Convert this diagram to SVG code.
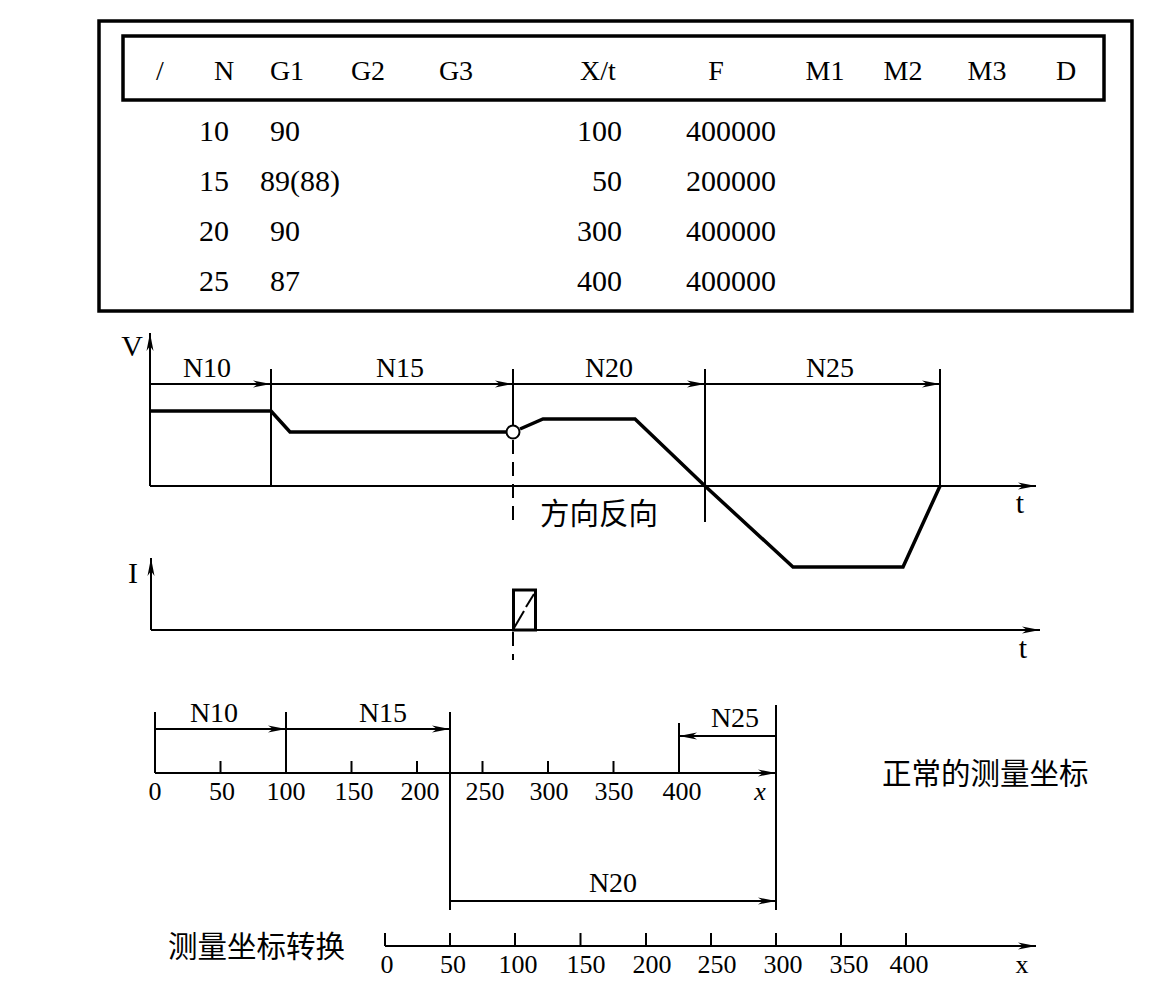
<svg xmlns="http://www.w3.org/2000/svg" width="1165" height="982" viewBox="0 0 1165 982">
<style>
.t{font-family:"Liberation Serif","Times New Roman",serif;font-size:28px;fill:#000}
.b{font-size:30px}
.s{font-family:"Liberation Serif","Times New Roman",serif;font-size:26px;fill:#000}
.c{font-family:"Noto Sans CJK SC",sans-serif;font-size:29.5px;fill:#000}
.m{text-anchor:middle}
.e{text-anchor:end}
.ax{stroke:#000;stroke-width:2;fill:none}
.bx{stroke:#000;stroke-width:3.5;fill:none}
.cv{stroke:#000;stroke-width:3.5;fill:none;stroke-linejoin:miter}
.ds{stroke:#000;stroke-width:2;fill:none;stroke-dasharray:14,8}
</style>
<defs>
<marker id="ar" markerUnits="userSpaceOnUse" markerWidth="20" markerHeight="8" refX="18" refY="4" orient="auto">
<path d="M0,0.5 L18,4 L0,7.5 L5,4 z" fill="#000"/>
</marker>
</defs>
<rect width="1165" height="982" fill="#fff"/>
<g id="table">
<rect class="bx" x="99" y="21" width="1033" height="290"/>
<rect class="bx" x="123" y="36" width="981" height="64"/>
<g id="header" class="t">
<text x="160" y="80" class="m">/</text>
<text x="224" y="80" class="m">N</text>
<text x="287" y="80" class="m">G1</text>
<text x="368" y="80" class="m">G2</text>
<text x="456" y="80" class="m">G3</text>
<text x="598" y="80" class="m">X/t</text>
<text x="716" y="80" class="m">F</text>
<text x="825" y="80" class="m">M1</text>
<text x="903" y="80" class="m">M2</text>
<text x="987" y="80" class="m">M3</text>
<text x="1066" y="80" class="m">D</text>
</g>
<g id="rows" class="t b">
<text x="214" y="141" class="m">10</text>
<text x="285" y="141" class="m">90</text>
<text x="622" y="141" class="e">100</text>
<text x="686" y="141">400000</text>
<text x="214" y="191" class="m">15</text>
<text x="260" y="191">89(88)</text>
<text x="622" y="191" class="e">50</text>
<text x="686" y="191">200000</text>
<text x="214" y="241" class="m">20</text>
<text x="285" y="241" class="m">90</text>
<text x="622" y="241" class="e">300</text>
<text x="686" y="241">400000</text>
<text x="214" y="291" class="m">25</text>
<text x="285" y="291" class="m">87</text>
<text x="622" y="291" class="e">400</text>
<text x="686" y="291">400000</text>
</g>
</g>
<g id="v-graph">
<line class="ax" x1="150" y1="486" x2="150" y2="333" marker-end="url(#ar)"/>
<line class="ax" x1="150" y1="486" x2="1036" y2="486" marker-end="url(#ar)"/>
<text class="t b" x="132" y="356" text-anchor="middle">V</text>
<text class="t b" x="1020" y="513" text-anchor="middle">t</text>
<line class="ax" x1="271" y1="369" x2="271" y2="486"/>
<line class="ax" x1="513" y1="369" x2="513" y2="425"/>
<line class="ds" x1="513" y1="440" x2="513" y2="522"/>
<line class="ax" x1="705" y1="369" x2="705" y2="522"/>
<line class="ax" x1="940" y1="369" x2="940" y2="486"/>
<g id="v-dims">
<line class="ax" x1="150" y1="384" x2="271" y2="384" marker-end="url(#ar)"/>
<line class="ax" x1="271" y1="384" x2="513" y2="384" marker-end="url(#ar)"/>
<line class="ax" x1="513" y1="384" x2="705" y2="384" marker-end="url(#ar)"/>
<line class="ax" x1="705" y1="384" x2="940" y2="384" marker-end="url(#ar)"/>
<text class="t m" x="207" y="377">N10</text>
<text class="t m" x="400" y="377">N15</text>
<text class="t m" x="609" y="377">N20</text>
<text class="t m" x="830" y="377">N25</text>
</g>
<polyline class="cv" points="150,411 271,411 290,432 506,432"/>
<polyline class="cv" points="520,429 543,419 635,419 705,486 793,567 903,567 940,486"/>
<circle cx="513" cy="432" r="6.5" fill="#fff" stroke="#000" stroke-width="2"/>
<text class="c" x="540" y="524">方向反向</text>
</g>
<g id="i-graph">
<line class="ax" x1="151" y1="630" x2="151" y2="558" marker-end="url(#ar)"/>
<line class="ax" x1="151" y1="630" x2="1040" y2="630" marker-end="url(#ar)"/>
<text class="t b m" x="133" y="583">I</text>
<text class="t b m" x="1023" y="658">t</text>
<rect x="513.5" y="590" width="22" height="40" fill="none" stroke="#000" stroke-width="3"/>
<line x1="514" y1="628" x2="524" y2="611" stroke="#000" stroke-width="2"/>
<line x1="526" y1="607" x2="534" y2="594" stroke="#000" stroke-width="2"/>
<line class="ds" x1="513" y1="632" x2="513" y2="660"/>
</g>
<g id="x-normal">
<line class="ax" x1="155" y1="773" x2="776" y2="773" marker-end="url(#ar)"/>
<g class="ax">
<line x1="155" y1="712" x2="155" y2="773"/>
<line x1="220.5" y1="761" x2="220.5" y2="773"/>
<line x1="286" y1="712" x2="286" y2="773"/>
<line x1="351.5" y1="761" x2="351.5" y2="773"/>
<line x1="417" y1="761" x2="417" y2="773"/>
<line x1="450" y1="712" x2="450" y2="910"/>
<line x1="482.5" y1="761" x2="482.5" y2="773"/>
<line x1="548" y1="761" x2="548" y2="773"/>
<line x1="613.5" y1="761" x2="613.5" y2="773"/>
<line x1="679" y1="723" x2="679" y2="773"/>
<line x1="776" y1="705" x2="776" y2="910"/>
</g>
<line class="ax" x1="155" y1="729" x2="286" y2="729" marker-end="url(#ar)"/>
<line class="ax" x1="286" y1="729" x2="450" y2="729" marker-end="url(#ar)"/>
<line class="ax" x1="776" y1="736" x2="679" y2="736" marker-end="url(#ar)"/>
<text class="t m" x="214" y="722">N10</text>
<text class="t m" x="383" y="722">N15</text>
<text class="t m" x="735" y="727">N25</text>
<g class="s m">
<text x="155" y="800">0</text>
<text x="222" y="800">50</text>
<text x="286" y="800">100</text>
<text x="354" y="800">150</text>
<text x="420" y="800">200</text>
<text x="485" y="800">250</text>
<text x="549" y="800">300</text>
<text x="614" y="800">350</text>
<text x="682" y="800">400</text>
</g>
<text class="s m" x="760" y="800" font-style="italic">x</text>
<text class="c" x="882" y="784">正常的测量坐标</text>
</g>
<g id="x-converted">
<line class="ax" x1="450" y1="901" x2="776" y2="901" marker-end="url(#ar)"/>
<text class="t m" x="613" y="892">N20</text>
<line class="ax" x1="385" y1="946" x2="1036" y2="946" marker-end="url(#ar)"/>
<g class="ax">
<line x1="385" y1="933" x2="385" y2="946"/>
<line x1="450" y1="933" x2="450" y2="946"/>
<line x1="515" y1="933" x2="515" y2="946"/>
<line x1="580.5" y1="933" x2="580.5" y2="946"/>
<line x1="646" y1="933" x2="646" y2="946"/>
<line x1="711" y1="933" x2="711" y2="946"/>
<line x1="776" y1="933" x2="776" y2="946"/>
<line x1="841" y1="933" x2="841" y2="946"/>
<line x1="906" y1="933" x2="906" y2="946"/>
</g>
<g class="s m">
<text x="387" y="973">0</text>
<text x="453" y="973">50</text>
<text x="518" y="973">100</text>
<text x="586" y="973">150</text>
<text x="652" y="973">200</text>
<text x="717" y="973">250</text>
<text x="783" y="973">300</text>
<text x="849" y="973">350</text>
<text x="909" y="973">400</text>
</g>
<text class="s m" x="1022" y="973">x</text>
<text class="c" x="168" y="957">测量坐标转换</text>
</g>
</svg>
